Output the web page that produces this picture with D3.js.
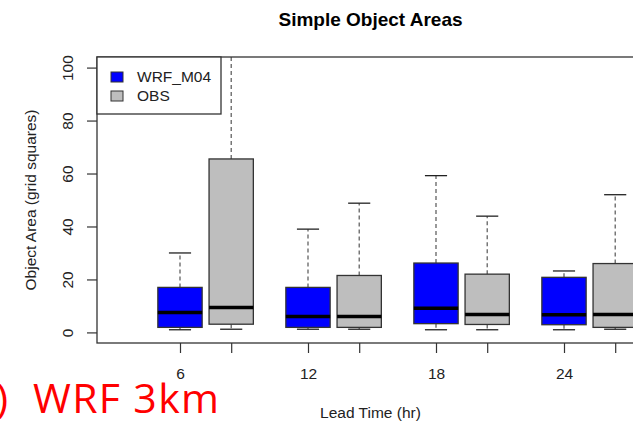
<!DOCTYPE html>
<html>
<head>
<meta charset="utf-8">
<script src="https://cdn.jsdelivr.net/npm/d3@7"></script>
<style>
  body { margin: 0; background: #fff; }
  svg { display: block; font-family: "Liberation Sans", Arial, sans-serif; }
</style>
</head>
<body>
<div id="chart-container"></div>
<script>
// data: [lower whisker, q1, median, q3, upper whisker]
const leadTimes = [6, 12, 18, 24];
const seriesNames = ["WRF_M04", "OBS"];
const seriesColors = ["#0000ff", "#bebebe"];
const wrfStats = [
  [1.0, 1.9, 7.5, 17.0, 30.0],
  [1.2, 1.9, 6.0, 17.0, 39.0],
  [1.0, 3.3, 9.1, 26.2, 59.2],
  [1.0, 2.9, 6.7, 20.8, 23.2]
];
const obsStats = [
  [1.2, 3.1, 9.4, 65.5, 130.0],
  [1.2, 1.9, 6.0, 21.5, 48.8],
  [1.0, 3.0, 6.8, 22.0, 43.9],
  [1.2, 1.9, 6.8, 26.0, 52.0]
];
const yTicks = [0, 20, 40, 60, 80, 100];

{ // start block scope
  drawBoxplot();
} // end block scope

function drawBoxplot() {
  // sizing
  const width = 633,
    height = 424;
  const margin = { top: 57, left: 97, bottom: 81, right: -11 };
  const plotRight = width - margin.right;
  const plotBottom = height - margin.bottom;

  const svg = d3.select("#chart-container")
    .append("svg")
    .attr("width", width)
    .attr("height", height)
    .attr("viewBox", [0, 0, width, height]);

  // flatten into one list of boxes
  const boxes = [];
  leadTimes.forEach((lt, i) => {
    [wrfStats, obsStats].forEach((stats, s) => {
      const [low, q1, med, q3, high] = stats[i];
      boxes.push({ lead: lt, series: s, slot: i * 2.5 + s, low, q1, med, q3, high });
    });
  });

  // scales
  const unit = 51.2;
  const x = d3.scaleLinear()
    .domain([0, 1])
    .range([180, 180 + unit]);
  const y = d3.scaleLinear()
    .domain([-4, 104])
    .range([plotBottom, margin.top]);
  const boxWidth = 0.865 * unit;
  const capWidth = boxWidth / 2;

  // clip to plot area
  svg.append("clipPath")
    .attr("id", "plot-clip")
    .append("rect")
    .attr("x", margin.left)
    .attr("y", margin.top)
    .attr("width", plotRight - margin.left)
    .attr("height", plotBottom - margin.top);

  const plot = svg.append("g").attr("clip-path", "url(#plot-clip)");

  const node = plot.selectAll("g.box")
    .data(boxes)
    .join("g")
    .attr("class", "box");

  // whiskers (dashed)
  node.append("line")
    .attr("x1", d => x(d.slot))
    .attr("x2", d => x(d.slot))
    .attr("y1", d => y(d.q3))
    .attr("y2", d => y(d.high))
    .attr("stroke", "#555")
    .attr("stroke-width", 1.2)
    .attr("stroke-dasharray", "4,3");
  node.append("line")
    .attr("x1", d => x(d.slot))
    .attr("x2", d => x(d.slot))
    .attr("y1", d => y(d.q1))
    .attr("y2", d => y(d.low))
    .attr("stroke", "#555")
    .attr("stroke-width", 1.2)
    .attr("stroke-dasharray", "4,3");

  // caps
  ["low", "high"].forEach(k => {
    node.append("line")
      .attr("x1", d => x(d.slot) - capWidth / 2)
      .attr("x2", d => x(d.slot) + capWidth / 2)
      .attr("y1", d => y(d[k]))
      .attr("y2", d => y(d[k]))
      .attr("stroke", "#222")
      .attr("stroke-width", 1.3);
  });

  // boxes
  node.append("rect")
    .attr("x", d => x(d.slot) - boxWidth / 2)
    .attr("y", d => y(d.q3))
    .attr("width", boxWidth)
    .attr("height", d => y(d.q1) - y(d.q3))
    .attr("fill", d => seriesColors[d.series])
    .attr("stroke", "#333")
    .attr("stroke-width", 1.3);

  // medians
  node.append("line")
    .attr("x1", d => x(d.slot) - boxWidth / 2)
    .attr("x2", d => x(d.slot) + boxWidth / 2)
    .attr("y1", d => y(d.med))
    .attr("y2", d => y(d.med))
    .attr("stroke", "#000")
    .attr("stroke-width", 3.5);

  // y axis
  const yAxis = svg.append("g")
    .attr("transform", `translate(${margin.left},0)`)
    .call(d3.axisLeft(y).tickValues(yTicks).tickSize(10).tickSizeOuter(0));
  yAxis.select(".domain").remove();
  yAxis.selectAll(".tick line").attr("stroke", "#333").attr("stroke-width", 1.2);
  yAxis.selectAll(".tick text")
    .attr("transform", "rotate(-90)")
    .attr("x", 0)
    .attr("y", -29)
    .attr("dy", "0.35em")
    .attr("text-anchor", "middle")
    .attr("font-size", "15.5px")
    .attr("fill", "#222");

  // x axis
  const xAxis = svg.append("g")
    .attr("transform", `translate(0,${plotBottom})`)
    .call(d3.axisBottom(x)
      .tickValues(boxes.map(d => d.slot))
      .tickFormat((v, i) => boxes[i].series === 0 ? boxes[i].lead : "")
      .tickSize(10)
      .tickSizeOuter(0));
  xAxis.select(".domain").remove();
  xAxis.selectAll(".tick line").attr("stroke", "#333").attr("stroke-width", 1.2);
  xAxis.selectAll(".tick text")
    .attr("y", 25)
    .attr("font-size", "15.5px")
    .attr("fill", "#222");

  // plot frame
  svg.append("rect")
    .attr("x", margin.left)
    .attr("y", margin.top)
    .attr("width", plotRight - margin.left)
    .attr("height", plotBottom - margin.top)
    .attr("fill", "none")
    .attr("stroke", "#333")
    .attr("stroke-width", 1.3);

  // title and axis labels
  const midX = (margin.left + plotRight) / 2;
  svg.append("text")
    .attr("x", midX)
    .attr("y", 26)
    .attr("text-anchor", "middle")
    .attr("font-size", "19px")
    .attr("font-weight", "bold")
    .text("Simple Object Areas");

  svg.append("text")
    .attr("x", midX)
    .attr("y", 418)
    .attr("text-anchor", "middle")
    .attr("font-size", "15.5px")
    .attr("fill", "#222")
    .text("Lead Time (hr)");

  svg.append("text")
    .attr("transform", `translate(36,${(margin.top + plotBottom) / 2}) rotate(-90)`)
    .attr("text-anchor", "middle")
    .attr("font-size", "15.5px")
    .attr("fill", "#222")
    .text("Object Area (grid squares)");

  // legend
  drawLegend(svg, margin);

  // red panel caption (cut off at the left edge, as in the source figure)
  const caption = svg.append("text")
    .attr("y", 413)
    .attr("text-anchor", "end")
    .attr("font-family", "'Open Sans', sans-serif")
    .attr("font-size", "41px")
    .attr("fill", "#ff0000");
  caption.append("tspan").attr("x", 8).text("T)");
  caption.append("tspan")
    .attr("x", 219)
    .attr("textLength", 186)
    .attr("lengthAdjust", "spacing")
    .text("WRF 3km");
}

// legend box with series swatches
function drawLegend(svg, margin) {
  const legend = svg.append("g");
  legend.append("rect")
    .attr("x", margin.left)
    .attr("y", margin.top)
    .attr("width", 124)
    .attr("height", 57)
    .attr("fill", "#fff")
    .attr("stroke", "#333")
    .attr("stroke-width", 1.3);

  const item = legend.selectAll("g")
    .data(seriesNames)
    .join("g")
    .attr("transform", (d, i) => `translate(${margin.left + 14},${margin.top + 20 + i * 19})`);

  item.append("rect")
    .attr("x", 0)
    .attr("y", -5)
    .attr("width", 12)
    .attr("height", 10)
    .attr("fill", (d, i) => seriesColors[i])
    .attr("stroke", "#333")
    .attr("stroke-width", 1);

  item.append("text")
    .attr("x", 26)
    .attr("y", 0)
    .attr("dy", "0.35em")
    .attr("font-size", "15.5px")
    .attr("fill", "#222")
    .text(d => d);
}
</script>
</body>
</html>
